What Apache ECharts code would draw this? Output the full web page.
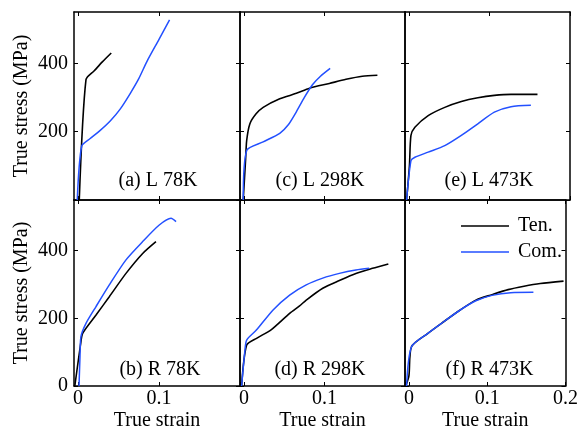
<!DOCTYPE html>
<html><head><meta charset="utf-8">
<script src="https://cdn.jsdelivr.net/npm/echarts@6/dist/echarts.min.js"></script>
<style>html,body{margin:0;padding:0;background:#fff}#c{width:581px;height:433px}</style>
</head><body><div id="c"></div>
<script>
// Panel labels (order: a, c, e, b, d, f)
const panelNames = ['(a) L 78K','(c) L 298K','(e) L 473K','(b) R 78K','(d) R 298K','(f) R 473K'];
const seriesNames = ['Ten.','Com.'];
const xTickValues = [0, 0.1, 0.2];
const yTickValues = [0, 200, 400];
const xLabelBottom = ['0','0.1','0.2'];

// Tension / compression curves: [true strain, true stress MPa]
const aTen = [[0.0015,0],[0.0098,352],[0.02,378],[0.03,404],[0.041,430]];
const aCom = [[-0.001,0],[0.0045,158],[0.015,180],[0.027,203],[0.04,232],[0.052,266],[0.064,310],[0.075,355],[0.085,405],[0.1,470],[0.113,527]];
const cTen = [[-0.001,0],[0.002,120],[0.0033,174],[0.0073,223],[0.015,252],[0.0238,271],[0.0444,296],[0.065,312],[0.0814,327],[0.106,341],[0.1267,353],[0.147,362],[0.1657,365]];
const cCom = [[-0.001,0],[0.0033,145],[0.0238,170],[0.0444,195],[0.055,220],[0.065,258],[0.075,300],[0.085,337],[0.095,362],[0.107,385]];
const eTen = [[-0.003,0],[0.0005,100],[0.0024,189],[0.0073,213],[0.0238,247],[0.0444,271],[0.065,288],[0.0855,299],[0.106,306],[0.1267,309],[0.1596,309]];
const eCom = [[-0.003,0],[0.0024,115],[0.0073,125],[0.0238,140],[0.0444,159],[0.065,189],[0.0855,223],[0.106,257],[0.1267,273],[0.1514,277]];
const bTen = [[-0.004,0],[0.0035,130],[0.0057,156],[0.0222,210],[0.0386,264],[0.0592,333],[0.0798,392],[0.0962,427]];
const bCom = [[0.0012,0],[0.0024,87],[0.0036,146],[0.0098,185],[0.0222,235],[0.0386,299],[0.0592,373],[0.0798,427],[0.1003,476],[0.1148,496],[0.121,486]];
const dTen = [[-0.003,0],[0.0033,121],[0.0156,141],[0.034,167],[0.0567,215],[0.069,237],[0.0773,254],[0.0978,289],[0.1185,312],[0.139,333],[0.1596,348],[0.1793,361]];
const dCom = [[-0.003,0],[0.0012,107],[0.0033,136],[0.0156,166],[0.0361,225],[0.0567,269],[0.0773,299],[0.0978,319],[0.1185,333],[0.139,343],[0.1555,348]];
const fTen = [[-0.004,0],[0.0,30],[0.0033,116],[0.0238,155],[0.0444,190],[0.065,224],[0.0855,254],[0.106,270],[0.1267,285],[0.147,295],[0.1678,303],[0.1975,310]];
const fCom = [[-0.003,0],[0.0033,116],[0.0238,155],[0.0444,190],[0.065,224],[0.0855,252],[0.106,268],[0.13,276],[0.159,277]];

const tenData = [aTen, cTen, eTen, bTen, dTen, fTen];
const comData = [aCom, cCom, eCom, bCom, dCom, fCom];

const FONT = '"Liberation Serif","Times New Roman",serif';
const BLUE = '#2350ff';
const grids = [
  {left:74, top:12, width:166, height:188},
  {left:240, top:12, width:165, height:188},
  {left:405, top:12, width:165, height:188},
  {left:74, top:200, width:166, height:186},
  {left:240, top:200, width:165, height:186},
  {left:405, top:200, width:165, height:186}
];
const labelCenters = [[158,181],[320,181],[489,181],[160,370],[320,370],[489.5,370]];

const XMIN = -0.005, XMAX = 0.2, YMIN = 0, YMAX = 550;
const lineStyleAx = {show:true, onZero:false, lineStyle:{color:'#000', width:1.5}};
const tickStyle = {show:true, inside:true, length:4, lineStyle:{color:'#000', width:1}};

const xAxes = [], yAxes = [], series = [], graphics = [];
for (let i = 0; i < 6; i++) {
  const row = Math.floor(i/3), col = i % 3;
  const xLabVals = row === 1 ? (col === 2 ? [0,0.1,0.2] : [0,0.1]) : [];
  xAxes.push({
    type:'value', gridIndex:i, min:XMIN, max:XMAX, position:'bottom',
    axisLine:lineStyleAx, splitLine:{show:false},
    axisTick:Object.assign({customValues:xTickValues}, tickStyle),
    axisLabel:{show:row===1, customValues:xLabVals, margin:3, color:'#000', fontFamily:FONT, fontSize:20,
      formatter:v => xLabelBottom[Math.round(v*10)]},
    name: row===1 ? 'True strain' : '', nameLocation:'middle', nameGap:25,
    nameTextStyle:{color:'#000', fontFamily:FONT, fontSize:20}
  });
  const yLabVals = col === 0 ? (row === 0 ? [200,400] : [0,200,400]) : [];
  yAxes.push({
    type:'value', gridIndex:i, min:YMIN, max:YMAX, position:'left',
    axisLine:lineStyleAx, splitLine:{show:false},
    axisTick:Object.assign({customValues:yTickValues}, tickStyle),
    axisLabel:{show:col===0, customValues:yLabVals, margin:6, color:'#000', fontFamily:FONT, fontSize:20},
    name: col===0 ? 'True stress (MPa)' : '', nameLocation:'middle', nameGap:42,
    nameTextStyle:{color:'#000', fontFamily:FONT, fontSize:20}
  });
  series.push({
    name:seriesNames[0], type:'line', xAxisIndex:i, yAxisIndex:i, data:tenData[i],
    symbol:'none', smooth:0.25, lineStyle:{color:'#000', width:1.6}, itemStyle:{color:'#000'},
    animation:false, z:3
  });
  series.push({
    name:seriesNames[1], type:'line', xAxisIndex:i, yAxisIndex:i, data:comData[i],
    symbol:'none', smooth:0.25, lineStyle:{color:BLUE, width:1.5}, itemStyle:{color:BLUE},
    animation:false, z:4
  });
  graphics.push({
    type:'text', x:labelCenters[i][0], y:labelCenters[i][1], silent:true,
    style:{text:panelNames[i], font:'20px ' + FONT, fill:'#000', align:'center', verticalAlign:'middle', textAlign:'center', textVerticalAlign:'middle'}
  });
}
// opposite-side axes (top / right) for the box frame and inward ticks
for (let i = 0; i < 6; i++) {
  xAxes.push({type:'value', gridIndex:i, min:XMIN, max:XMAX, position:'top',
    axisLine:lineStyleAx, splitLine:{show:false}, axisLabel:{show:false},
    axisTick:Object.assign({customValues:xTickValues}, tickStyle)});
  yAxes.push({type:'value', gridIndex:i, min:YMIN, max:YMAX, position:'right',
    axisLine:lineStyleAx, splitLine:{show:false}, axisLabel:{show:false},
    axisTick:Object.assign({customValues:yTickValues}, tickStyle)});
}

const chart = echarts.init(document.getElementById('c'), null, {renderer:'canvas'});
chart.setOption({
  backgroundColor:'#fff',
  animation:false,
  grid:grids,
  xAxis:xAxes,
  yAxis:yAxes,
  legend:{data:seriesNames, orient:'vertical', left:456, top:211, icon:'rect', itemWidth:48, itemHeight:1.5, itemGap:6,
    textStyle:{color:'#000', fontFamily:FONT, fontSize:20, padding:[0,0,0,4]}, selectedMode:false},
  graphic:graphics,
  series:series
});
</script></body></html>
